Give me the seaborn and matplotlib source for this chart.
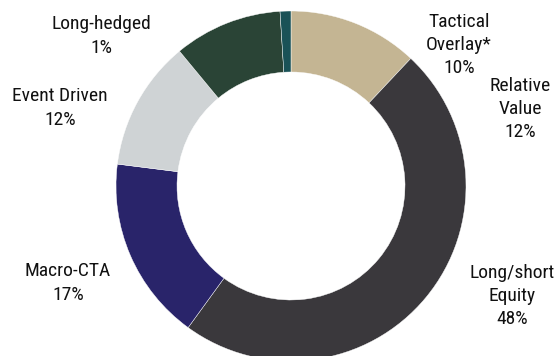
import matplotlib
matplotlib.use("Agg")
import matplotlib.pyplot as plt
from matplotlib import font_manager
import seaborn as sns

sns.set_theme(style="white")

names = {f.name for f in font_manager.fontManager.ttflist}
fam = ["Liberation Sans Narrow", "Roboto Condensed", "Liberation Sans", "DejaVu Sans"]
fam = [f for f in fam if f in names] or ["DejaVu Sans"]
plt.rcParams["font.family"] = fam

# slices clockwise from 12 o'clock
segments = ["Relative Value", "Long/short Equity", "Macro-CTA", "Event Driven",
            "Tactical Overlay*", "Long-hedged"]
values = [12, 48, 17, 12, 10, 1]
colors = ["#C4B593", "#3A383C", "#29246A", "#CFD3D5", "#2A4436", "#1A5257"]

label_texts = ["Tactical\nOverlay*\n10%", "Relative\nValue\n12%", "Long-hedged\n1%",
               "Event Driven\n12%", "Macro-CTA\n17%", "Long/short\nEquity\n48%"]

W, H = 555, 356
fig = plt.figure(figsize=(W / 100, H / 100), dpi=100)
ax = fig.add_axes([0, 0, 1, 1])

cx, cy, r = 291, H - 186, 175
ax.pie(values, colors=colors, startangle=90, counterclock=False, radius=r,
       center=(cx, cy), wedgeprops=dict(width=r - 114, edgecolor="white", linewidth=0.3))

label_pos = [(459, 45), (520, 109), (101, 36), (60, 108), (68, 283), (512, 296)]
for t, (x, y) in zip(label_texts, label_pos):
    ax.text(x, H - y, t, ha="center", va="center", fontsize=14, color="#111111",
            linespacing=1.38)

ax.set_xlim(0, W)
ax.set_ylim(0, H)
ax.set_aspect("equal")
ax.axis("off")
fig.savefig("out.png", dpi=100)
